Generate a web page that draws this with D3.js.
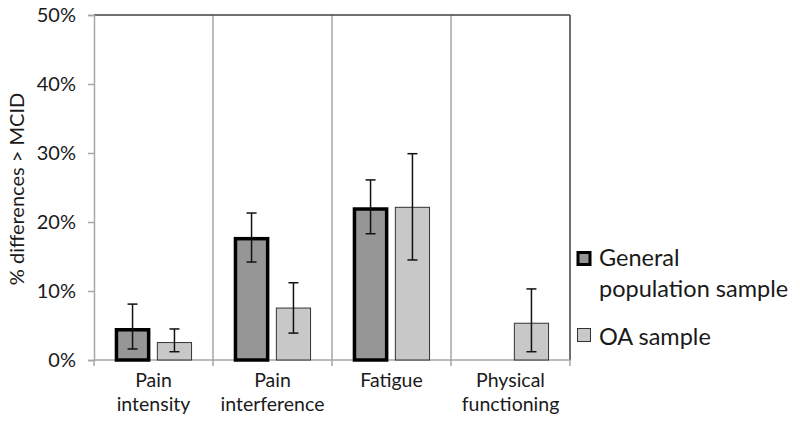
<!DOCTYPE html>
<html><head><meta charset="utf-8">
<script src="https://cdn.jsdelivr.net/npm/d3@7"></script>
<style>body{margin:0;background:#fff}svg{display:block}text{font-family:Lato,"Open Sans",sans-serif;fill:#1a1a1a}</style>
</head><body>
<svg id="c" width="800" height="432"></svg>
<script>
const categories = [["Pain","intensity"],["Pain","interference"],["Fatigue"],["Physical","functioning"]];
const seriesNames = ["General population sample","OA sample"];
const generalVals = [4.6, 17.8, 22.1, null];
const generalLow  = [1.6, 14.2, 18.3, null];
const generalHigh = [8.1, 21.3, 26.1, null];
const oaVals = [2.6, 7.6, 22.2, 5.4];
const oaLow  = [1.2, 3.9, 14.5, 1.2];
const oaHigh = [4.5, 11.2, 29.9, 10.3];
const yTicks = [0,10,20,30,40,50];

const svg = d3.select("#c");
const L=94, R=570, T=15, B=360;
const x = d3.scaleBand().domain(d3.range(categories.length)).range([L,R]);
const y = d3.scaleLinear().domain([0,50]).range([B,T]);
const inner = d3.scaleBand().domain([0,1]).range([0,x.bandwidth()]).paddingInner(0.16).paddingOuter(0.5);

const bounds = d3.range(categories.length+1).map(i=> i<categories.length ? x(i) : R);
svg.selectAll(".sep").data(bounds.slice(1,-1)).join("line")
  .attr("x1",d=>d).attr("x2",d=>d).attr("y1",T).attr("y2",B).attr("stroke","#a6a6a6").attr("stroke-width",1.5);
svg.selectAll(".bt").data(bounds).join("line")
  .attr("x1",d=>d).attr("x2",d=>d).attr("y1",B).attr("y2",B+6).attr("stroke","#a6a6a6").attr("stroke-width",1.5);
svg.append("line").attr("x1",L).attr("x2",R).attr("y1",T).attr("y2",T).attr("stroke","#404040").attr("stroke-width",1.5);
svg.append("line").attr("x1",R).attr("x2",R).attr("y1",T).attr("y2",B).attr("stroke","#404040").attr("stroke-width",1.5);

const ya = svg.append("g").attr("transform",`translate(${L},0)`)
  .call(d3.axisLeft(y).tickValues(yTicks).tickFormat(d=>d+"%").tickSize(6).tickPadding(12));
ya.select(".domain").attr("stroke","#a6a6a6").attr("stroke-width",1.5);
ya.selectAll(".tick line").attr("stroke","#a6a6a6").attr("stroke-width",1.5);
ya.selectAll(".tick text").attr("font-size",20).attr("font-family","Lato").attr("fill","#1a1a1a");
svg.append("line").attr("x1",L).attr("x2",R).attr("y1",B).attr("y2",B).attr("stroke","#a6a6a6").attr("stroke-width",1.5);

const data = [];
categories.forEach((c,i)=>{
  data.push({i,s:0,v:generalVals[i],lo:generalLow[i],hi:generalHigh[i]});
  data.push({i,s:1,v:oaVals[i],lo:oaLow[i],hi:oaHigh[i]});
});
const dv = data.filter(d=>d.v!=null);
svg.selectAll(".bar").data(dv).join("rect")
  .attr("x",d=>x(d.i)+inner(d.s)+(d.s===0?1.5:0.5))
  .attr("width",d=>inner.bandwidth()-(d.s===0?3:1))
  .attr("y",d=>y(d.v)+(d.s===0?1.5:0.5))
  .attr("height",d=>y(0)-y(d.v)-(d.s===0?1.5:0.5))
  .attr("fill",d=>d.s===0?"#969696":"#c8c8c8")
  .attr("stroke",d=>d.s===0?"#000":"#333")
  .attr("stroke-width",d=>d.s===0?3.5:1);
const eb = svg.selectAll(".eb").data(dv).join("g");
const cx = d=>x(d.i)+inner(d.s)+inner.bandwidth()/2;
eb.append("line").attr("x1",cx).attr("x2",cx)
  .attr("y1",d=>y(d.lo)).attr("y2",d=>y(d.hi)).attr("stroke","#111").attr("stroke-width",1.5);
["lo","hi"].forEach(k=>{
  eb.append("line").attr("x1",d=>cx(d)-5).attr("x2",d=>cx(d)+5)
    .attr("y1",d=>y(d[k])).attr("y2",d=>y(d[k])).attr("stroke","#111").attr("stroke-width",1.5);
});

categories.forEach((c,i)=>{
  c.forEach((ln,j)=>svg.append("text").attr("x",x(i)+x.bandwidth()/2).attr("y",387+j*23.5)
    .attr("text-anchor","middle").attr("font-size",19.5).text(ln));
});

svg.append("text").attr("transform","translate(24,189) rotate(-90)").attr("text-anchor","middle").attr("font-size",20)
  .text("% differences > MCID");

svg.append("rect").attr("x",578).attr("y",252.5).attr("width",12).attr("height",12).attr("fill","#969696").attr("stroke","#000").attr("stroke-width",3);
svg.append("text").attr("x",599).attr("y",266).attr("font-size",23.5).text("General");
svg.append("text").attr("x",599).attr("y",297).attr("font-size",23.5).text("population sample");
svg.append("rect").attr("x",577.5).attr("y",328.5).attr("width",13).attr("height",13).attr("fill","#c8c8c8").attr("stroke","#333").attr("stroke-width",1);
svg.append("text").attr("x",599).attr("y",345).attr("font-size",23.5).text("OA sample");
</script>
</body></html>
